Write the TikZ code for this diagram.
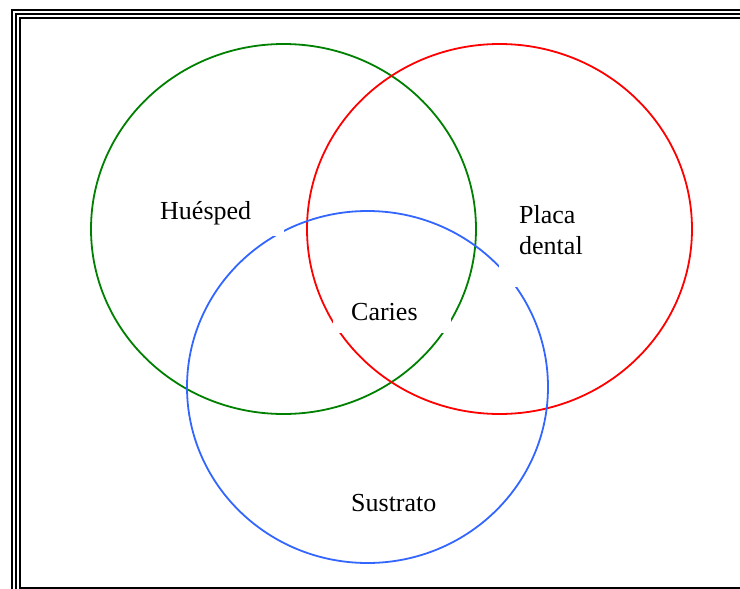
\documentclass[tikz,border=0pt]{standalone}
\usepackage{fontspec}
\setmainfont{Liberation Serif}
\usepackage{tikz}
\usetikzlibrary{positioning}
\definecolor{vennGreen}{HTML}{008000}
\definecolor{vennRed}{HTML}{FF0000}
\definecolor{vennBlue}{HTML}{3366FF}

\begin{document}
\begin{tikzpicture}[
  x=1pt, y=-1pt,
  every node/.style={font=\fontsize{26}{31}\selectfont},
  ring/.style={line width=1.8pt},
  frameline/.style={draw=black, line width=2pt},
  label/.style={fill=white, inner xsep=0pt, inner ysep=0pt, align=left,
                anchor=south west},
]
\useasboundingbox (0,0) rectangle (740,589);
\clip (0,0) rectangle (740,589);

% frame
\draw[frameline] (12,10) rectangle (760,596);
\draw[frameline] (16,14) rectangle (756,592);
\draw[frameline] (20,18) rectangle (752,587.5);

% circles
\draw[ring, vennGreen] (283.5,229) ellipse [x radius=192.5, y radius=185];
\draw[ring, vennRed] (499.5,229) ellipse [x radius=192.5, y radius=185];
\draw[ring, vennBlue] (367.5,387) ellipse [x radius=180.5, y radius=176];

% text boxes
\node[label, minimum width=134, minimum height=46, text width=114,
      inner xsep=10pt] (host) at (150,236) {Huésped};
\node[label, minimum width=100, minimum height=114, text width=80,
      inner xsep=20pt] (plaque) at (499,287) {Placa\\dental};
\node[label, minimum width=118, minimum height=42, text width=82,
      inner xsep=18pt] (caries) at (333,333) {Caries};
\node[label, minimum width=118, minimum height=42, text width=82,
      inner xsep=18pt] (substrate) at (333,524) {Sustrato};
\end{tikzpicture}
\end{document}
